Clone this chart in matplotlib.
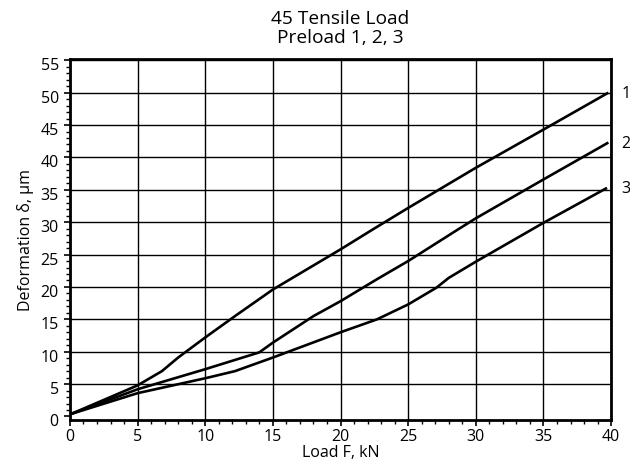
import numpy as np
import matplotlib
matplotlib.use("Agg")
import matplotlib.pyplot as plt
import matplotlib.transforms as mtransforms
from matplotlib.ticker import MultipleLocator

plt.rcParams['font.family'] = ['Open Sans', 'DejaVu Sans']
plt.rcParams['font.size'] = 11.5

# preload 1, 2, 3 curves (load kN, deformation um)
load_1 = [0.1, 5.0, 6.8, 8.0, 10.0, 12.2, 15.0, 20.0, 22.4, 25.0, 30.0, 35.0, 39.8]
defo_1 = [0.4, 4.8, 7.0, 9.1, 12.2, 15.5, 19.6, 25.8, 28.9, 32.2, 38.4, 44.3, 50.0]

load_2 = [0.1, 5.0, 10.0, 14.0, 15.0, 18.0, 20.0, 22.7, 25.0, 28.7, 30.0, 35.0, 39.8]
defo_2 = [0.4, 4.2, 7.3, 9.9, 11.4, 15.5, 17.8, 21.2, 24.0, 28.9, 30.6, 36.6, 42.3]

load_3 = [0.1, 5.0, 10.0, 12.2, 15.0, 20.0, 22.7, 25.0, 27.1, 28.0, 30.0, 35.0, 39.7]
defo_3 = [0.4, 3.6, 5.9, 7.0, 9.1, 13.0, 15.0, 17.3, 19.9, 21.4, 23.9, 29.9, 35.3]

curve_names = ['1', '2', '3']

fig = plt.figure(figsize=(6.3, 4.64), dpi=100)
ax = fig.add_axes([0.111, 0.0933, 0.859, 0.7774])

for x, y, name in zip([load_1, load_2, load_3], [defo_1, defo_2, defo_3], curve_names):
    ax.plot(x, y, color='black', lw=1.9, solid_capstyle='butt')
    ax.text(40.75, y[-1], name, ha='left', va='center')

ax.set_xlim(0, 40)
ax.set_ylim(-0.5, 55.2)
ax.xaxis.set_major_locator(MultipleLocator(5))
ax.xaxis.set_minor_locator(MultipleLocator(1))
ax.yaxis.set_major_locator(MultipleLocator(5))
ax.yaxis.set_minor_locator(MultipleLocator(1))
ax.tick_params(which='major', direction='out', length=4, width=1.2, colors='black', pad=4)
ax.tick_params(axis='x', which='major', pad=2)
ax.tick_params(which='minor', direction='out', length=3, width=1.0)
ax.grid(True, which='major', color='black', lw=1.0)

# no grid line at y = 0 (bottom spine is just below it)
for t, loc in zip(ax.yaxis.get_major_ticks(), ax.yaxis.get_majorticklocs()):
    if loc == 0:
        t.gridline.set_visible(False)

# y labels sit a little below their lines in the original
shift = mtransforms.ScaledTranslation(0, -3 / 100, fig.dpi_scale_trans)
for lab in ax.yaxis.get_majorticklabels():
    lab.set_transform(lab.get_transform() + shift)

for s in ax.spines.values():
    s.set_linewidth(2.0)
    s.set_color('black')

ax.set_xlabel('Load F, kN', labelpad=0)
ax.set_ylabel('Deformation δ, μm', labelpad=5)
ax.set_title('45 Tensile Load\nPreload 1, 2, 3', pad=12, linespacing=1.1)

fig.savefig('out.png', dpi=100)
